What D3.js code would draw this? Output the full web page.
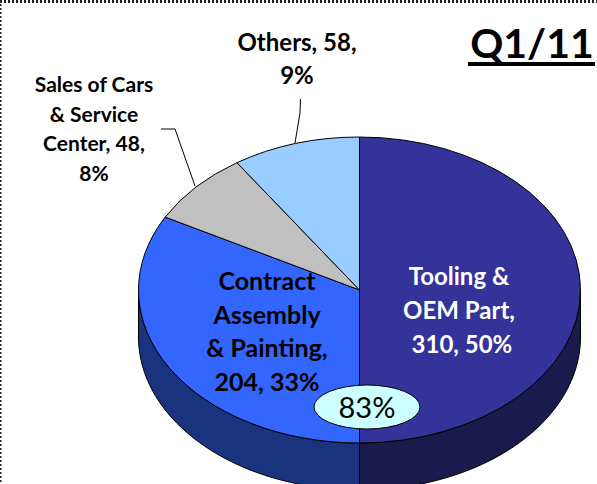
<!DOCTYPE html>
<html>
<head>
<meta charset="utf-8">
<script src="https://cdn.jsdelivr.net/npm/d3@7"></script>
<style>
  html, body { margin: 0; padding: 0; background: #fff; }
  svg { display: block; }
  text { font-family: Lato, "Open Sans", sans-serif; }
</style>
</head>
<body>
<svg></svg>
<script>
const categories = ['Tooling & OEM Part', 'Contract Assembly & Painting', 'Sales of Cars & Service Center', 'Others'];
const seriesValues = [310, 204, 48, 58];
const topColors = ['#333399', '#3366ff', '#c0c0c0', '#99ccff'];
const sideColors = ['#1a1a4d', '#1a337f', '#606060', '#4d667f'];
const labelLines = [
    ['Tooling &', 'OEM Part,', ' 310, 50%'],
    ['Contract', 'Assembly', '& Painting,', '204, 33%'],
    ['Sales of Cars', '& Service', 'Center, 48,', '8%'],
    ['Others, 58,', '9%']
];
const labelColors = ['#ffffff', '#000000', '#000000', '#000000'];
const titleText = 'Q1/11';
const calloutText = '83%';

const width = 597;
const height = 484;
const cx = 359.5;
const cy = 290;
const rx = 221;
const ry = 153;
const depth = 47;

// x of the middle and y of the first baseline, line step and font size per label
const labelX = [459, 267, 94, 297];
const labelY = [285, 290, 92, 51];
const labelStep = [34, 33.5, 29.5, 33];
const labelSize = [24, 25, 21, 24];

const svg = d3.select('svg')
    .attr('width', width)
    .attr('height', height);

// dotted frame, only top and left are in the picture
svg.append('line')
    .attr('x1', 0).attr('x2', width)
    .attr('y1', 1.5).attr('y2', 1.5)
    .attr('stroke', '#222')
    .attr('stroke-width', 3)
    .attr('stroke-dasharray', '2 2');
svg.append('line')
    .attr('x1', 0.5).attr('x2', 0.5)
    .attr('y1', 0).attr('y2', height)
    .attr('stroke', '#222')
    .attr('stroke-width', 2)
    .attr('stroke-dasharray', '2 2');

const slices = d3.pie().sort(null)(seriesValues);

// angle is clockwise from the top, same as d3.pie
const ellipseX = (a) => cx + rx * Math.sin(a);
const ellipseY = (a) => cy - ry * Math.cos(a);

// side wall of the disc, only the front half shows
const front = svg.append('g').attr('class', 'side');
slices.forEach((slice, i) => {
    const start = Math.max(slice.startAngle, Math.PI / 2);
    const end = Math.min(slice.endAngle, Math.PI * 1.5);
    if (start >= end) {
        return;
    }
    const angles = d3.range(0, 61).map((k) => start + (end - start) * k / 60);
    const outline = angles.map((a) => [ellipseX(a), ellipseY(a)])
        .concat(angles.slice().reverse().map((a) => [ellipseX(a), ellipseY(a) + depth]));
    front.append('path')
        .attr('d', d3.line()(outline) + 'Z')
        .attr('fill', sideColors[i])
        .attr('stroke', '#000')
        .attr('stroke-width', 1);
});

// top of the disc, a circular arc squashed to an ellipse
const arc = d3.arc().innerRadius(0).outerRadius(rx);
svg.append('g')
    .attr('class', 'top')
    .attr('transform', `translate(${cx},${cy}) scale(1,${ry / rx})`)
    .selectAll('path')
    .data(slices)
    .enter()
    .append('path')
    .attr('d', arc)
    .attr('fill', (d, i) => topColors[i])
    .attr('stroke', '#000')
    .attr('stroke-width', 1)
    .attr('vector-effect', 'non-scaling-stroke');

// leader lines of the two outer labels
const leader = d3.line();
svg.append('path')
    .attr('d', leader([[161, 129], [175, 129], [195, 186]]))
    .attr('fill', 'none').attr('stroke', '#000');
svg.append('path')
    .attr('d', leader([[300.5, 99], [300, 113], [295, 143]]))
    .attr('fill', 'none').attr('stroke', '#000');

// data labels
labelLines.forEach((lines, i) => {
    const text = svg.append('text')
        .attr('text-anchor', 'middle')
        .attr('font-weight', 700)
        .attr('font-size', labelSize[i])
        .attr('fill', labelColors[i])
        .attr('xml:space', 'preserve');
    lines.forEach((line, k) => {
        text.append('tspan')
            .attr('x', labelX[i])
            .attr('y', labelY[i] + k * labelStep[i])
            .text(line);
    });
});

// quarter title
svg.append('text')
    .attr('x', 532).attr('y', 58)
    .attr('text-anchor', 'middle')
    .attr('font-size', 41)
    .attr('font-weight', 700)
    .text(titleText);
svg.append('rect')
    .attr('x', 468).attr('y', 62)
    .attr('width', 127).attr('height', 4)
    .attr('fill', '#000');

// callout over the front edge
svg.append('ellipse')
    .attr('cx', 367).attr('cy', 407)
    .attr('rx', 53).attr('ry', 22)
    .attr('fill', '#ccffff')
    .attr('stroke', '#000')
    .attr('stroke-width', 1);
svg.append('text')
    .attr('x', 367).attr('y', 418)
    .attr('text-anchor', 'middle')
    .attr('font-size', 29)
    .text(calloutText);
</script>
</body>
</html>
